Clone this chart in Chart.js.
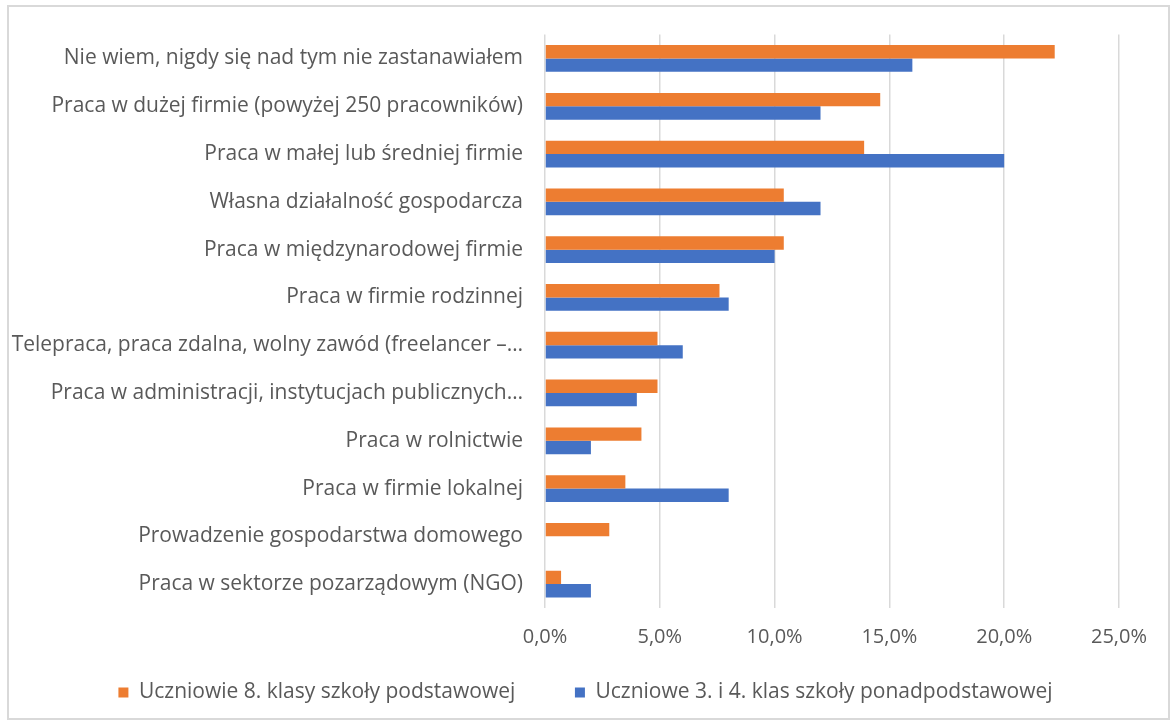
<!DOCTYPE html>
<html>
<head>
<meta charset="utf-8">
<script src="https://cdn.jsdelivr.net/npm/chart.js@4.4.1/dist/chart.umd.min.js"></script>
<style>
  html, body { margin: 0; padding: 0; background: #fff; }
  #frame { position: absolute; left: 7px; top: 5px; width: 1159px; height: 711px; border: 2px solid #d9d9d9; }
  #wrap { position: absolute; left: 0; top: 0; width: 1171px; height: 722px; }
</style>
</head>
<body>
<div id="frame"></div>
<div id="wrap"><canvas id="chart" width="1171" height="722"></canvas></div>
<script>
// kategorie i wartosci (w %)
const categories = [
    'Nie wiem, nigdy się nad tym nie zastanawiałem',
    'Praca w dużej firmie (powyżej 250 pracowników)',
    'Praca w małej lub średniej firmie',
    'Własna działalność gospodarcza',
    'Praca w międzynarodowej firmie',
    'Praca w firmie rodzinnej',
    'Telepraca, praca zdalna, wolny zawód (freelancer –…',
    'Praca w administracji, instytucjach publicznych…',
    'Praca w rolnictwie',
    'Praca w firmie lokalnej',
    'Prowadzenie gospodarstwa domowego',
    'Praca w sektorze pozarządowym (NGO)'
];
const seriesNames = ['Uczniowie 8. klasy szkoły podstawowej', 'Uczniowe 3. i 4. klas szkoły ponadpodstawowej'];
const podstawowa = [22.2, 14.6, 13.9, 10.4, 10.4, 7.6, 4.9, 4.9, 4.2, 3.5, 2.8, 0.7];
const ponadpodstawowa = [16.0, 12.0, 20.0, 12.0, 10.0, 8.0, 6.0, 4.0, 2.0, 8.0, 0, 2.0];
const xTicks = [0, 5, 10, 15, 20, 25];

const fontFam = '"Open Sans", sans-serif';
const grey = '#595959';

new Chart(document.getElementById('chart'), {
    type: 'bar',
    data: {
        labels: categories,
        datasets: [{
            label: seriesNames[0],
            data: podstawowa,
            backgroundColor: '#ED7D31',
            categoryPercentage: 0.56,
            barPercentage: 1
        }, {
            label: seriesNames[1],
            data: ponadpodstawowa,
            backgroundColor: '#4472C4',
            categoryPercentage: 0.56,
            barPercentage: 1
        }]
    },
    options: {
        indexAxis: 'y',
        responsive: false,
        animation: false,
        layout: { padding: { top: 33, right: 0, left: 0, bottom: 9 } },
        scales: {
            x: {
                min: 0,
                max: 25,
                afterBuildTicks: s => { s.ticks = xTicks.map(v => ({ value: v })); },
                grid: { color: '#d9d9d9', lineWidth: 1.5, drawTicks: false },
                border: { display: false },
                ticks: {
                    padding: 17,
                    color: grey,
                    font: { family: fontFam, size: 20 },
                    callback: v => v.toFixed(1).replace('.', ',') + '%'
                }
            },
            y: {
                afterFit: s => { s.width = 545; },
                grid: { display: false, drawTicks: false },
                border: { display: false },
                ticks: {
                    padding: 22,
                    color: grey,
                    autoSkip: false,
                    font: { family: fontFam, size: 21 }
                }
            },
            // empty right margin, keeps the legend centred on the whole frame
            yRight: {
                position: 'right',
                afterFit: s => { s.width = 52; },
                grid: { display: false, drawTicks: false },
                border: { display: false },
                ticks: { display: false }
            }
        },
        plugins: {
            legend: {
                position: 'bottom',
                labels: {
                    boxWidth: 10,
                    boxHeight: 10,
                    padding: 16,
                    color: grey,
                    font: { family: fontFam, size: 21 },
                    // wider gap between the two entries without pushing the legend down
                    generateLabels: chart => {
                        const items = Chart.defaults.plugins.legend.labels.generateLabels(chart);
                        items[0].text += ' '.repeat(8);
                        return items;
                    }
                }
            },
            tooltip: { enabled: false }
        }
    }
});
</script>
</body>
</html>
